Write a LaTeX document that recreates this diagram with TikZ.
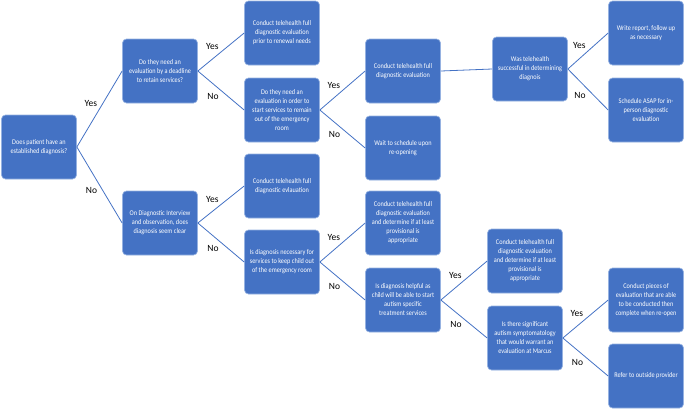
\documentclass[tikz,border=0pt]{standalone}
\usepackage{fontspec}
\setmainfont{Carlito}
\newfontfamily\boxfont[FakeStretch=0.87]{Carlito}
\definecolor{boxblue}{RGB}{68,114,196}
\definecolor{edgeblue}{RGB}{150,178,225}
\definecolor{lineblue}{RGB}{68,114,196}
\begin{document}
\begin{tikzpicture}[
  x=1pt, y=-1pt,
  box/.style={rectangle, rounded corners=4pt, minimum width=75pt,
              minimum height=64pt, inner sep=1pt,
              align=center, fill=boxblue, draw=edgeblue, line width=0.7pt,
              text=white, font=\boxfont\fontsize{7.2}{9}\selectfont},
  link/.style={draw=lineblue, line width=0.8pt},
  yes/.style={above left, inner sep=2pt, font=\fontsize{9.5}{11}\selectfont},
  no/.style={below left, inner sep=2pt, font=\fontsize{9.5}{11}\selectfont}
]
\useasboundingbox (0,0) rectangle (685,408);
% column 1
\node[box] (diag) at (39,147) {Does patient have an\\established diagnosis?};
% column 2
\node[box] (deadline) at (160,71)  {Do they need an\\evaluation by a deadline\\to retain services?};
\node[box] (clear)    at (160,223) {On Diagnostic Interview\\and observation, does\\diagnosis seem clear};
% column 3
\node[box] (renew)  at (282,33)  {Conduct telehealth full\\diagnostic evaluation\\prior to renewal needs};
\node[box] (start)  at (282,110) {Do they need an\\evaluation in order to\\start services to remain\\out of the emergency\\room};
\node[box] (evalc)  at (282,186) {Conduct telehealth full\\diagnostic evlauation};
\node[box] (keep)   at (282,262) {Is diagnosis necessary for\\services to keep child out\\of the emergency room};
% column 4
\node[box] (evals)  at (403,71)  {Conduct telehealth full\\diagnostic evaluation};
\node[box] (wait)   at (403,148) {Wait to schedule upon\\re-opening};
\node[box] (provk)  at (403,223) {Conduct telehealth full\\diagnostic evaluation\\and determine if at least\\provisional is\\appropriate};
\node[box] (helpful) at (403,300) {Is diagnosis helpful as\\child will be able to start\\autism specific\\treatment services};
% column 5
\node[box] (success) at (530,69)  {Was telehealth\\successful in determining\\diagnois};
\node[box] (provh)   at (525,261) {Conduct telehealth full\\diagnostic evaluation\\and determine if at least\\provisional is\\appropriate};
\node[box] (marcus)  at (525,338) {Is there significant\\autism symptomatology\\that would warrant an\\evaluation at Marcus};
% column 6
\node[box] (report)  at (646,33)  {Write report, follow up\\as necessary};
\node[box] (asap)    at (646,110) {Schedule ASAP for in-\\person diagnostic\\evaluation};
\node[box] (pieces)  at (646,300) {Conduct pieces of\\evaluation that are able\\to be conducted then\\complete when re-open};
\node[box] (refer)   at (646,376) {Refer to outside provider};
% branches
\draw[link] (diag.east) -- node[yes] {Yes} (deadline.west);
\draw[link] (diag.east) -- node[no]  {No}  (clear.west);
\draw[link] (deadline.east) -- node[yes] {Yes} (renew.west);
\draw[link] (deadline.east) -- node[no]  {No}  (start.west);
\draw[link] (clear.east) -- node[yes] {Yes} (evalc.west);
\draw[link] (clear.east) -- node[no]  {No}  (keep.west);
\draw[link] (start.east) -- node[yes] {Yes} (evals.west);
\draw[link] (start.east) -- node[no]  {No}  (wait.west);
\draw[link] (keep.east) -- node[yes] {Yes} (provk.west);
\draw[link] (keep.east) -- node[no]  {No}  (helpful.west);
\draw[link] (evals.east) -- (success.west);
\draw[link] (success.east) -- node[yes] {Yes} (report.west);
\draw[link] (success.east) -- node[no]  {No}  (asap.west);
\draw[link] (helpful.east) -- node[yes] {Yes} (provh.west);
\draw[link] (helpful.east) -- node[no]  {No}  (marcus.west);
\draw[link] (marcus.east) -- node[yes] {Yes} (pieces.west);
\draw[link] (marcus.east) -- node[no]  {No}  (refer.west);
\end{tikzpicture}
\end{document}
